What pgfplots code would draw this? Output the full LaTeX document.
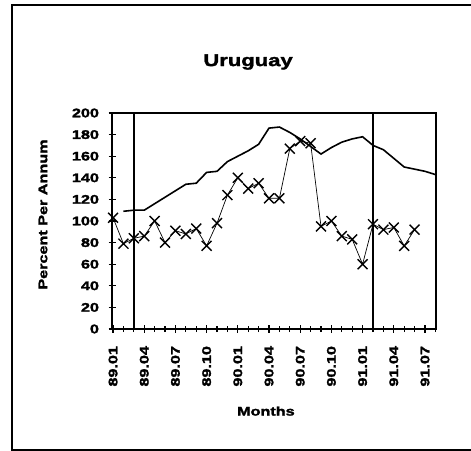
\documentclass[border=0pt]{standalone}
\usepackage{pgfplots}
\pgfplotsset{compat=1.18}
\usepackage{fontspec}
\setmainfont{Liberation Sans}[FakeStretch=1.3, BoldFeatures={FakeBold=2}]
\begin{document}
\begin{tikzpicture}
\useasboundingbox (0bp,0bp) rectangle (471bp,451bp);
\draw[line width=1.5bp] (480bp,1bp) -- (12bp,1bp) -- (12bp,446bp) -- (480bp,446bp);
\begin{axis}[
  at={(112bp,122bp)}, anchor=south west, scale only axis,
  width=324bp, height=216bp,
  xmin=-0.1, xmax=31.06, ymin=0, ymax=200,
  axis line style={line width=1.4bp},
  tick align=center, major tick length=7bp, minor tick length=6bp,
  xtick pos=bottom, ytick pos=left,
  every tick/.style={black, line width=1.1bp},
  xtick={0,3,...,30}, minor xtick={0,...,31},
  xticklabels={89.01,89.04,89.07,89.10,90.01,90.04,90.07,90.10,91.01,91.04,91.07},
  ytick={0,20,...,200},
  /pgf/number format/assume math mode=true,
  tick label style={font=\bfseries\fontsize{12.5}{13}\selectfont},
  xticklabel style={rotate=90, anchor=east, xshift=-10bp},
  yticklabel style={xshift=-6bp},
  clip=false,
]
\addplot[black, line width=1.5bp] coordinates {(2,0) (2,200)};
\addplot[black, line width=1.5bp] coordinates {(25,0) (25,200)};
\addplot[black, line width=1.6bp] coordinates {
(1,109) (2,110) (3,110) (4,116) (5,122) (6,128) (7,134) (8,135) (9,145) (10,146)
(11,155) (12,160) (13,165) (14,171) (15,186) (16,187) (17,182) (18,176) (19,169)
(20,162) (21,168) (22,173) (23,176) (24,178) (25,170) (26,166) (27,158) (28,150)
(29,148) (30,146) (31,143)};
\addplot[black, line width=0.7bp, mark=x, mark size=7bp,
  mark options={line width=1.4bp, solid}] coordinates {
(0,103) (1,79) (2,84) (3,86) (4,100) (5,80) (6,91) (7,88) (8,93) (9,77)
(10,98) (11,124) (12,140) (13,130) (14,135) (15,121) (16,121) (17,167) (18,174) (19,172)
(20,95) (21,100) (22,86) (23,83) (24,60) (25,97) (26,92) (27,94) (28,77) (29,92)};
\node[font=\bfseries\fontsize{17}{19}\selectfont] at (axis description cs:0.42,1.236) {Uruguay};
\node[font=\bfseries\fontsize{12.5}{14}\selectfont, rotate=90] at (axis description cs:-0.213,0.53) {Percent Per Annum};
\node[font=\bfseries\fontsize{12.5}{14}\selectfont] at (axis description cs:0.475,-0.38) {Months};
\end{axis}
\end{tikzpicture}
\end{document}
